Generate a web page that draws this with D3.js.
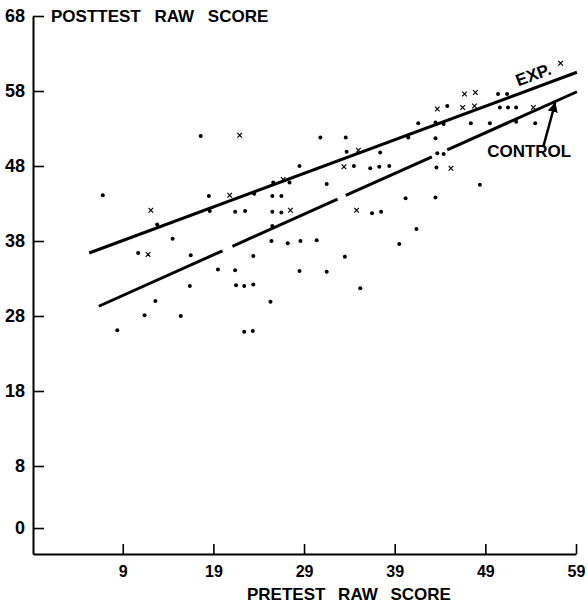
<!DOCTYPE html>
<html lang="en">
<head>
    <meta charset="UTF-8">
    <title>Pretest vs posttest raw score</title>
    <script src="https://cdn.jsdelivr.net/npm/d3@7"></script>
    <style>
        body { margin: 0; background: #fff; }
        text { font-family: "Liberation Sans", Arial, Helvetica, sans-serif; font-weight: bold; fill: #000; }
    </style>
</head>
<body>
<svg id="chart" width="588" height="605"></svg>
<script>
  // tick labels
  var xTicks = [9, 19, 29, 39, 49, 59]
  var yTicks = [0, 8, 18, 28, 38, 48, 58, 68]

  // [pretest, posttest]
  var dotScores = [
    [17.6, 52.0], [6.8, 44.1], [18.5, 44.0], [18.6, 42.0], [21.4, 41.9], [22.5, 42.0],
    [12.8, 40.2], [14.5, 38.3], [10.7, 36.4], [16.5, 36.1], [19.5, 34.2], [21.4, 34.1],
    [23.4, 36.0], [16.4, 32.0], [21.5, 32.1], [22.4, 32.0], [23.4, 32.2], [12.6, 30.0],
    [11.4, 28.1], [15.4, 28.0], [8.4, 26.1], [22.4, 25.9], [23.35, 26.0], [23.5, 44.3],
    [30.8, 51.8], [33.6, 51.8], [40.5, 51.8], [41.6, 53.7], [33.7, 49.9], [37.4, 49.8],
    [28.5, 48.0], [34.5, 48.0], [36.3, 47.7], [37.3, 47.9], [38.4, 48.0], [25.6, 45.8],
    [27.4, 45.8], [31.5, 45.6], [25.5, 44.0], [26.5, 44.0], [25.5, 41.9], [26.5, 41.8],
    [36.5, 41.7], [37.5, 41.9], [40.2, 43.7], [41.4, 39.6], [25.5, 40.0], [25.4, 38.0],
    [27.2, 37.7], [28.6, 38.0], [30.4, 38.1], [39.5, 37.6], [33.5, 35.9], [28.5, 34.0],
    [31.5, 33.9], [35.2, 31.7], [25.3, 29.9],
    [44.8, 56.0], [50.4, 57.6], [51.4, 57.6], [50.6, 55.8], [51.5, 55.8], [52.4, 55.8],
    [43.5, 53.8], [44.4, 53.6], [47.4, 53.7], [49.5, 53.7], [52.4, 53.9], [54.5, 53.7],
    [43.5, 51.7], [43.7, 49.7], [44.4, 49.6], [43.6, 47.8], [48.4, 45.5], [43.5, 43.8]
  ]
  var crossScores = [
    [21.9, 52.1], [20.8, 44.1], [12.1, 42.1], [11.8, 36.2], [26.7, 46.2], [27.5, 42.1],
    [33.4, 47.9], [35.0, 50.1], [34.8, 42.1], [57.3, 61.7], [46.7, 57.6], [47.9, 57.8],
    [43.7, 55.6], [46.5, 55.8], [47.8, 56.0], [54.3, 55.8], [45.2, 47.7]
  ]

  // fitted lines: [pretest, posttest] end points
  var expLine = [[5.3, 36.4], [59.1, 60.5]]
  var controlLine = [[6.36, 29.3], [59.1, 57.9]]
  // pretest ranges where the control line is drawn (broken line)
  var controlPieces = [[6.36, 20.0], [21.1, 32.7], [33.6, 43.1], [44.8, 59.1]]

  // annotations
  var expLabelAt = 52.9
  var controlLabel = [49.2, 49.2]
  var controlArrow = [[55.4, 50.6], [56.7, 56.4]]

  var svg = d3.select('#chart')

  var x = d3.scaleLinear().domain([-0.9, 59]).range([33, 576])
  var y = d3.scaleLinear().domain([-3.35, 8, 68]).range([554, 466, 16])

  svg.append('defs').append('marker')
    .attr('id', 'head')
    .attr('viewBox', '0 0 10 10')
    .attr('refX', 9).attr('refY', 5)
    .attr('markerWidth', 4).attr('markerHeight', 4)
    .attr('markerUnits', 'strokeWidth')
    .attr('orient', 'auto')
    .append('path').attr('d', 'M0,0L10,5L0,10z').attr('fill', '#000')

  // y axis, ticks pointing inward
  var yAxis = svg.append('g')
    .attr('transform', 'translate(' + x(-0.9) + ',0)')
    .call(d3.axisLeft(y).tickValues(yTicks).tickSize(-11).tickSizeOuter(0).tickPadding(8))
  yAxis.select('.domain').attr('stroke-width', 2)
  yAxis.selectAll('.tick line').attr('stroke-width', 1.6)
  yAxis.selectAll('.tick text').attr('font-size', 18).attr('fill', '#000')
    .style('font-family', '"Liberation Sans", Arial, sans-serif')

  // x axis
  var xAxis = svg.append('g')
    .attr('transform', 'translate(0,' + y(-3.35) + ')')
    .call(d3.axisBottom(x).tickValues(xTicks).tickSize(-10).tickSizeOuter(0).tickPadding(12))
  xAxis.select('.domain').attr('stroke-width', 2)
  xAxis.selectAll('.tick line').attr('stroke-width', 1.6)
  xAxis.selectAll('.tick text').attr('font-size', 16).attr('fill', '#000')
    .style('font-family', '"Liberation Sans", Arial, sans-serif')

  svg.append('text')
    .attr('x', 51).attr('y', 22)
    .attr('font-size', 17)
    .style('word-spacing', '9px')
    .text('POSTTEST RAW SCORE')

  svg.append('text')
    .attr('x', 247).attr('y', 600)
    .attr('font-size', 17)
    .style('word-spacing', '8px')
    .text('PRETEST RAW SCORE')

  var line = d3.line().x(function (d) { return x(d[0]) }).y(function (d) { return y(d[1]) })

  // experimental line
  svg.append('path')
    .attr('d', line(expLine))
    .attr('fill', 'none').attr('stroke', '#000').attr('stroke-width', 3)

  // control line, drawn in pieces
  var controlY = d3.scaleLinear()
    .domain([controlLine[0][0], controlLine[1][0]])
    .range([controlLine[0][1], controlLine[1][1]])
  svg.selectAll('.ctrl')
    .data(controlPieces)
    .enter().append('path')
    .attr('class', 'ctrl')
    .attr('d', function (p) { return line([[p[0], controlY(p[0])], [p[1], controlY(p[1])]]) })
    .attr('fill', 'none').attr('stroke', '#000').attr('stroke-width', 3)

  // dots
  svg.selectAll('.dot')
    .data(dotScores)
    .enter().append('circle')
    .attr('class', 'dot')
    .attr('cx', function (d) { return x(d[0]) })
    .attr('cy', function (d) { return y(d[1]) })
    .attr('r', 2)
    .attr('fill', '#000')

  // crosses
  svg.selectAll('.cross')
    .data(crossScores)
    .enter().append('path')
    .attr('class', 'cross')
    .attr('transform', function (d) { return 'translate(' + x(d[0]) + ',' + y(d[1]) + ')' })
    .attr('d', 'M-2.3,-2.3L2.3,2.3M-2.3,2.3L2.3,-2.3')
    .attr('stroke', '#000').attr('stroke-width', 1.2)

  // EXP. label along the line
  var expY = d3.scaleLinear().domain([expLine[0][0], expLine[1][0]]).range([expLine[0][1], expLine[1][1]])
  var angle = Math.atan2(y(expLine[1][1]) - y(expLine[0][1]), x(expLine[1][0]) - x(expLine[0][0])) * 180 / Math.PI
  svg.append('text')
    .attr('transform', 'translate(' + x(expLabelAt) + ',' + y(expY(expLabelAt)) + ') rotate(' + angle + ')')
    .attr('y', -7)
    .attr('font-size', 17)
    .text('EXP.')

  svg.append('text')
    .attr('x', x(controlLabel[0])).attr('y', y(controlLabel[1]))
    .attr('font-size', 17)
    .text('CONTROL')

  svg.append('path')
    .attr('d', line(controlArrow))
    .attr('stroke', '#000').attr('stroke-width', 2.5)
    .attr('marker-end', 'url(#head)')
</script>
</body>
</html>
